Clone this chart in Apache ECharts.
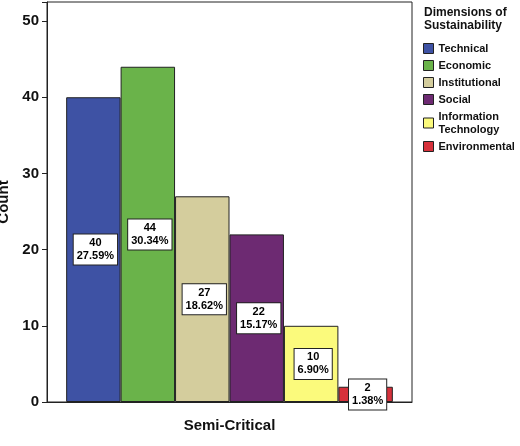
<!DOCTYPE html>
<html><head><meta charset="utf-8">
<script src="https://cdn.jsdelivr.net/npm/echarts@6/dist/echarts.min.js"></script>
<style>html,body{margin:0;padding:0;background:#fff}#c{width:520px;height:446px}</style>
</head><body><div id="c"></div>
<script>
// data
const categories = ['Semi-Critical'];
const dimensions = ['Technical', 'Economic', 'Institutional', 'Social', 'Information\nTechnology', 'Environmental'];
const counts = [40, 44, 27, 22, 10, 2];
const percents = ['27.59%', '30.34%', '18.62%', '15.17%', '6.90%', '1.38%'];
const colors = ['#3e52a4', '#6ab34a', '#d4cd9d', '#6d2a72', '#fbfa7c', '#d6313b'];

const chart = echarts.init(document.getElementById('c'));
const font = 'Liberation Sans';

const series = dimensions.map((name, i) => ({
  name: name,
  type: 'bar',
  data: [counts[i]],
  barGap: '0%',
  barCategoryGap: '10.5%',
  itemStyle: { color: colors[i], borderColor: '#222', borderWidth: 1 },
  label: {
    show: true,
    position: 'inside',
    formatter: counts[i] + '\n' + percents[i],
    backgroundColor: '#fff',
    borderColor: '#222',
    borderWidth: 1,
    padding: [2, 3],
    color: '#000',
    fontFamily: font,
    fontSize: 11,
    fontWeight: 'bold',
    lineHeight: 13,
    offset: [2, 0]
  },
  animation: false
}));

chart.setOption({
  textStyle: { fontFamily: font },
  grid: { left: 47, right: 108, top: 2, bottom: 44, show: true, borderColor: '#222', borderWidth: 1, outerBoundsMode: 'none', containLabel: false },
  legend: {
    orient: 'vertical',
    left: 418,
    top: 37,
    itemWidth: 10,
    itemHeight: 10,
    itemGap: 4,
    icon: 'rect',
    textStyle: { fontFamily: font, fontSize: 11, fontWeight: 'bold', color: '#111', lineHeight: 13 },
    data: dimensions.map((d, i) => ({ name: d, itemStyle: { color: colors[i], borderColor: '#222', borderWidth: 1 } }))
  },
  graphic: [{
    type: 'text', left: 424, top: 6,
    style: { text: 'Dimensions of\nSustainability', font: 'bold 12px Liberation Sans', fill: '#111', lineHeight: 13 }
  }],
  xAxis: {
    type: 'category',
    data: categories,
    axisLine: { lineStyle: { color: '#222' } },
    axisTick: { alignWithLabel: true, length: 5, lineStyle: { color: '#222' } },
    axisLabel: { fontFamily: font, fontSize: 15, fontWeight: 'bold', color: '#111', margin: 16 }
  },
  yAxis: {
    type: 'value',
    min: 0, max: 52.5, interval: 10,
    name: 'Count',
    nameLocation: 'middle',
    nameGap: 30,
    nameTextStyle: { fontFamily: font, fontSize: 15, fontWeight: 'bold', color: '#111' },
    axisLine: { show: true, lineStyle: { color: '#222' } },
    axisTick: { show: true, length: 5, lineStyle: { color: '#222' } },
    axisLabel: { fontFamily: font, fontSize: 15, fontWeight: 'bold', color: '#111', formatter: v => (v % 10 === 0 ? v : '') },
    splitLine: { show: false }
  },
  series: series
});
</script>
</body></html>
